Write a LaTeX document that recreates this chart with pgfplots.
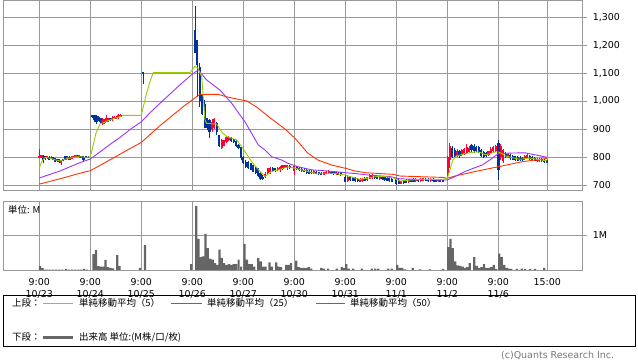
\documentclass[border=0pt]{standalone}
\usepackage{pgfplots}
\pgfplotsset{compat=1.18}
\usepackage{pgfplotstable}
\usepackage{fontspec}
\setmainfont{DejaVu Sans}
\newfontfamily\jp{Noto Sans CJK JP}
\definecolor{gridc}{HTML}{999999}
\definecolor{cblue}{HTML}{003399}
\definecolor{cred}{HTML}{FF0033}
\definecolor{maA}{HTML}{99CC00}
\definecolor{maB}{HTML}{9933FF}
\definecolor{maC}{HTML}{FF3300}
\definecolor{vgray}{HTML}{666666}
\definecolor{copyc}{HTML}{777777}

\pgfplotstableread{
x lo hi blo bhi
43 777 806 785 804
45 790 805 792 803
49 788 802 790 801
53 789 800 790 799
55 782 797 783 796
57 783 794 785 792
59 780 793 781 792
63 784 793 785 792
65.5 788 805 790 803
69.5 789 802 790 801
77 800 808 801 806
81.5 795 805 796 803
83.5 783 802 790 801
86 796 804 797 803
88 798 802 799 801
92.5 940 950 944 950
94.5 926 950 932 950
96.5 918 950 926 947
98.5 928 946 930 944
100.5 922 941 924 938
110 930 940 932 938
121.5 944 951 945 950
143 1062 1105 1098 1104
195 1170 1339 1170 1254
197.4 1015 1218 1129 1218
199.8 980 1135 1000 1122
202.2 950 1021 955 1021
204.6 902 1004 905 990
207 895 940 903 938
209.5 867 935 890 932
216.8 880 925 890 920
219.2 836 880 840 879
231.3 855 870 856 868
233.7 850 866 852 864
236.1 836 861 838 858
238.5 830 845 832 843
241 790 838 795 835
243.3 775 805 778 801
245.8 762 790 765 783
248.2 757 785 760 783
250.7 752 780 754 777
253.1 745 772 748 771
255.6 738 765 742 760
258 728 762 733 757
260.5 718 748 720 742
262.9 718 735 722 730
272.7 745 763 750 760
275.2 748 762 752 760
289.9 758 770 760 768
296.8 755 768 757 766
299.2 750 765 752 760
301.7 748 762 750 757
304.1 745 760 748 755
306.6 740 758 742 754
309 738 755 740 750
311.5 740 752 742 748
316.4 738 750 740 747
318.8 736 748 738 745
321.3 734 746 736 743
331.1 738 750 740 748
333.5 736 748 738 745
338.4 735 746 737 743
340.9 733 745 735 742
345.3 710 735 712 730
350.2 715 732 717 728
352.7 713 730 716 726
355.1 712 728 714 725
357.6 711 726 713 722
364.9 713 727 715 724
374.7 722 736 725 733
377.2 720 733 722 730
382.1 718 732 720 728
384.5 716 732 718 728
387 714 730 716 726
389.4 712 728 714 724
391.9 710 725 712 722
396.3 700 725 704 720
398.8 702 722 705 718
403.7 705 718 707 716
406.1 706 720 708 718
411 709 722 711 720
413.5 710 724 712 722
418.4 712 723 714 721
425.7 713 725 715 723
428.2 712 724 714 722
433.1 711 724 713 722
435.5 710 723 712 721
440.4 710 722 712 720
442.9 710 720 712 718
452.2 795 838 800 832
454.6 795 832 800 825
459.5 798 826 802 820
471.5 818 848 825 843
474 815 845 820 840
476.4 818 840 822 836
478.8 815 838 818 835
481.2 800 830 802 825
483.6 798 820 800 818
486 800 818 802 815
498.5 718 862 752 850
505.6 795 818 800 812
510.4 790 812 795 808
512.8 788 808 790 805
515.3 786 805 788 802
517.7 784 802 787 800
520.1 785 802 788 798
522.5 785 800 788 797
529.7 790 808 792 805
532.1 788 803 790 800
534.6 785 800 787 797
541.8 782 795 784 792
544.2 780 792 782 790
546.6 778 790 780 788
}\bluetab

\pgfplotstableread{
x lo hi blo bhi
39.5 796 829 796 804
41.5 795 807 796 806
47 794 804 795 803
51 795 802 796 801
61 771 790 778 789
67.5 792 803 793 801
71.5 792 803 793 801
73.5 796 805 797 804
75.5 799 808 800 807
79 797 808 799 807
102.5 915 939 918 932
104.5 918 936 920 935
106.5 925 950 926 938
108.3 926 940 926 938
112 930 945 932 941
114 935 946 937 944
116 935 946 937 944
118 937 952 938 950
120 942 952 944 950
212 890 935 896 926
214.4 900 938 905 935
221.6 828 865 831 861
224 838 862 840 860
226.5 850 875 854 871
228.9 858 874 860 872
265.4 725 745 728 740
267.8 738 762 742 760
270.3 740 763 745 760
277.6 750 765 752 762
280.1 748 768 752 765
282.5 755 772 758 771
285 760 773 762 771
287.4 755 772 760 770
294.3 736 770 750 768
313.9 740 752 742 750
323.7 735 748 737 745
326.2 738 750 740 748
328.6 740 752 742 750
336 737 749 739 746
347.8 712 735 715 730
360 710 724 712 720
362.5 712 725 714 722
367.4 716 730 718 728
369.8 720 738 722 735
372.3 722 740 725 737
379.6 719 732 721 729
401.2 702 716 704 713
408.6 708 722 710 720
415.9 711 724 713 722
420.8 712 724 714 722
423.3 713 726 715 724
430.6 712 725 714 723
438 711 723 713 721
447.6 730 805 736 800
449.8 762 850 790 840
457 800 828 805 822
461.9 802 830 806 825
464.3 808 832 812 828
466.7 812 845 815 835
469.1 815 838 818 832
488.5 805 822 808 820
490.9 810 835 815 830
493.3 815 838 820 835
495.7 818 842 822 838
500.8 790 845 800 838
503.2 778 828 785 825
508 795 815 800 812
524.9 788 808 792 805
527.3 792 810 795 807
537 783 795 785 793
539.4 782 796 784 794
}\redtab

\pgfplotsset{
  wick/.style={mark=none, draw=none, forget plot, error bars/.cd, y dir=plus, y explicit, error mark=none, error bar style={draw=#1, line width=0.9bp}},
  body/.style={mark=none, draw=none, forget plot, error bars/.cd, y dir=plus, y explicit, error mark=none, error bar style={draw=#1, line width=2.1bp}},
}

\begin{document}
\begin{tikzpicture}[x=1bp,y=1bp]
\useasboundingbox (0,0) rectangle (638,362);

\begin{axis}[
  scale only axis, width=579bp, height=190bp,
  at={(3.3bp,171.7bp)}, anchor=south west,
  xmin=3.3, xmax=582.3, ymin=681, ymax=1360,
  xtick={39.3,90.3,141.3,192.3,243.3,294.3,345.3,396.3,447.3,498.3,547.3},
  xticklabels={},
  xtick style={draw=none},
  ytick={700,800,900,1000,1100,1200,1300},
  ytick pos=right, yticklabel pos=right,
  tick align=outside, major tick length=5bp,
  ytick style={draw=gridc, line width=0.8bp},
  grid=major, grid style={draw=gridc, line width=0.8bp},
  axis line style={draw=gridc, line width=0.8bp},
  yticklabel style={font=\fontsize{9.5}{11}\selectfont, xshift=2bp, /pgf/number format/1000 sep={,}},
  /pgf/number format/assume math mode=true,
]
\addplot[wick=cblue] table[x=x, y=lo, y error plus expr=\thisrow{hi}-\thisrow{lo}] {\bluetab};
\addplot[body=cblue] table[x=x, y=blo, y error plus expr=\thisrow{bhi}-\thisrow{blo}] {\bluetab};
\addplot[wick=cred] table[x=x, y=lo, y error plus expr=\thisrow{hi}-\thisrow{lo}] {\redtab};
\addplot[body=cred] table[x=x, y=blo, y error plus expr=\thisrow{bhi}-\thisrow{blo}] {\redtab};

\addplot[maC, line width=0.9bp] coordinates {
(39.3,703) (50,713) (60,722) (70,732) (80,742) (90.3,751) (100,770) (110,790) (120,810) (130,830) (141.3,852) (150,880) (160,912) (173,950) (185,985) (192.3,1004) (200,1024) (218,1024) (226.7,1015) (240,1005) (247,1000) (258,975) (270,940) (285,900) (295,867) (308,813) (318,789) (332,771) (345,760) (355,750) (365,744) (393,738) (400,732) (443,727) (447,724) (455,732) (475,748) (498,765) (522,783) (547,795)};
\addplot[maB, line width=0.9bp] coordinates {
(39.3,725) (50,738) (60,750) (70,765) (80,780) (90.3,793) (100,818) (110,845) (120,870) (130,898) (141.3,926) (150,958) (160,992) (170,1025) (180,1058) (192.3,1096) (198.3,1111) (206.7,1075) (220,1039) (231.7,992) (240,950) (245,926) (251.7,884) (258.3,843) (265,825) (271.7,801) (281.7,789) (288.3,777) (298.3,765) (311.7,754) (328,750) (345,744) (355,741) (370,735) (390,730) (400,722) (440,718) (447.3,718) (455,730) (465,748) (475,762) (482,771) (490,790) (498.3,812) (510,814) (525,815) (547,799)};
\addplot[maA, line width=0.9bp] coordinates {
(39.3,760) (42,785) (45,798) (50,796) (55,790) (60,786) (65,792) (70,796) (75,800) (80,801) (85,799) (90.3,800) (93,840) (96,885) (100,918) (105,925) (108,930) (112,935) (116,940) (120,944) (123,949) (141.3,949) (146,1020) (150,1070) (153.3,1102) (190,1102) (195,1125) (198,1117) (201.7,1087) (205,932) (206.7,920) (216.7,918) (221.7,889) (226.7,873) (236.7,861) (241.7,837) (245,819) (251.7,783) (260,748) (265,730) (271.7,748) (278.3,754) (288.3,765) (295,760) (305,751) (315,742) (331.7,742) (345,736) (350,730) (360,720) (370,726) (380,732) (393,726) (400,714) (410,718) (423,720) (443,720) (447.3,724) (450,755) (453,790) (456,803) (460,807) (465,812) (470,815) (475,818) (480,817) (485,808) (490,812) (495,818) (498.3,818) (502,812) (506,803) (510,800) (515,795) (520,792) (525,794) (530,796) (535,793) (540,790) (547,786)};
\end{axis}

\begin{axis}[
  scale only axis, width=579bp, height=68.7bp,
  at={(3.3bp,92bp)}, anchor=south west,
  xmin=3.3, xmax=582.3, ymin=0, ymax=1.98,
  xtick={39.3,90.3,141.3,192.3,243.3,294.3,345.3,396.3,447.3,498.3,547.3},
  xticklabels={{9:00\\10/23},{9:00\\10/24},{9:00\\10/25},{9:00\\10/26},{9:00\\10/27},{9:00\\10/30},{9:00\\10/31},{9:00\\11/1},{9:00\\11/2},{9:00\\11/6},{15:00}},
  xticklabel style={align=center, font=\fontsize{9.5}{12}\selectfont},
  xtick style={draw=none},
  ytick={1}, yticklabels={1M},
  ytick pos=right, yticklabel pos=right,
  tick align=outside, major tick length=5bp,
  ytick style={draw=gridc, line width=0.8bp},
  yticklabel style={font=\fontsize{9.5}{11}\selectfont, xshift=2bp},
  grid=major, grid style={draw=gridc, line width=0.8bp},
  axis line style={draw=gridc, line width=0.8bp},
]
\addplot[ybar, bar width=2.2, fill=vgray, draw=none] coordinates {
(40,0.11) (42.5,0.06) (45,0.01) (47,0.01) (50,0.01) (53,0.01) (56,0.01) (59,0.01) (62,0.01) (66,0.03) (69,0.01) (72,0.01) (75,0.01) (78,0.01) (81,0.01) (84,0.03) (87,0.01)
(93.5,0.46) (96,0.58) (98.5,0.11) (101,0.10) (103.3,0.10) (105.5,0.29) (108,0.08) (110.5,0.06) (113,0.05) (117.2,0.43) (119.6,0.11)
(140,0.06) (145,0.72)
(191.2,0.17) (196.2,1.85) (198.6,0.9) (201,0.37) (203,0.39) (205.4,1.04) (207.8,0.63) (210.3,0.33) (212.8,0.3) (215.1,0.2) (217.2,0.15) (219.5,0.59) (221.7,0.35) (224,0.2) (226.4,0.15) (228.9,0.17) (231.2,0.15) (233.6,0.17) (236,0.17) (238.6,0.3) (241.1,0.1)
(244.5,0.75) (247,0.3) (249.4,0.17) (251.8,0.17) (254.2,0.1) (258.3,0.35) (260.7,0.25) (263,0.1) (265.4,0.1) (269.5,0.22) (271.8,0.1) (276.2,0.22) (278.6,0.1) (281,0.08) (286.2,0.15) (288.6,0.15) (291,0.2)
(296.2,0.27) (298.7,0.08) (301.2,0.06) (303.7,0.06) (306.2,0.06) (308.7,0.08) (311.2,0.04) (321.3,0.06) (323.7,0.04) (328,0.04) (336.7,0.04) (341.7,0.08) (344,0.06)
(346.2,0.17) (348.7,0.04) (353.3,0.04) (361.7,0.04) (371.7,0.04) (375.2,0.04) (378.3,0.04) (388.3,0.04) (391.7,0.04)
(397.2,0.15) (399.7,0.06) (402.2,0.06) (405,0.02) (412.8,0.06) (420,0.02) (430,0.02) (443,0.03)
(448.2,0.66) (450.5,0.9) (452.8,0.63) (455.3,0.25) (457.8,0.13) (460.3,0.12) (462.8,0.1) (465,0.06) (467.3,0.08) (469.8,0.2) (474.3,0.37) (476.7,0.12) (479,0.06) (481.5,0.08) (484,0.17) (486.3,0.06) (488.8,0.06) (491.2,0.08) (493.7,0.15) (496.2,0.03)
(499.2,0.47) (501.7,0.37) (504.2,0.15) (506.7,0.06) (509,0.04) (511.3,0.03) (516.7,0.03) (521.7,0.04) (525,0.03) (530,0.03) (535,0.03) (544.2,0.06)
};
\end{axis}

\node[anchor=west, inner sep=0pt, font=\jp\fontsize{9.5}{11}\selectfont] at (8,152) {単位: M};

% legend box
\draw[black, line width=0.9bp] (3.3,67) rectangle (635,16);
\node[anchor=west, inner sep=0pt, font=\jp\fontsize{9.5}{11}\selectfont] at (12,59) {上段：};
\draw[maA, line width=0.9bp] (43,59) -- (73,59);
\node[anchor=west, inner sep=0pt, font=\jp\fontsize{9.5}{11}\selectfont] at (79,59) {単純移動平均（5）};
\draw[maB, line width=0.9bp] (171,59) -- (202,59);
\node[anchor=west, inner sep=0pt, font=\jp\fontsize{9.5}{11}\selectfont] at (207,59) {単純移動平均（25）};
\draw[maC, line width=0.9bp] (316,59) -- (345,59);
\node[anchor=west, inner sep=0pt, font=\jp\fontsize{9.5}{11}\selectfont] at (350,59) {単純移動平均（50）};
\node[anchor=west, inner sep=0pt, font=\jp\fontsize{9.5}{11}\selectfont] at (12,25) {下段：};
\draw[vgray, line width=3bp] (43,25) -- (73,25);
\node[anchor=west, inner sep=0pt, font=\jp\fontsize{9.5}{11}\selectfont] at (79,25) {出来高 単位:(M株/口/枚)};

\node[anchor=north west, inner sep=0pt, text=copyc, font=\fontsize{9.5}{11}\selectfont] at (501,11) {(c)Quants Research Inc.};
\end{tikzpicture}
\end{document}
